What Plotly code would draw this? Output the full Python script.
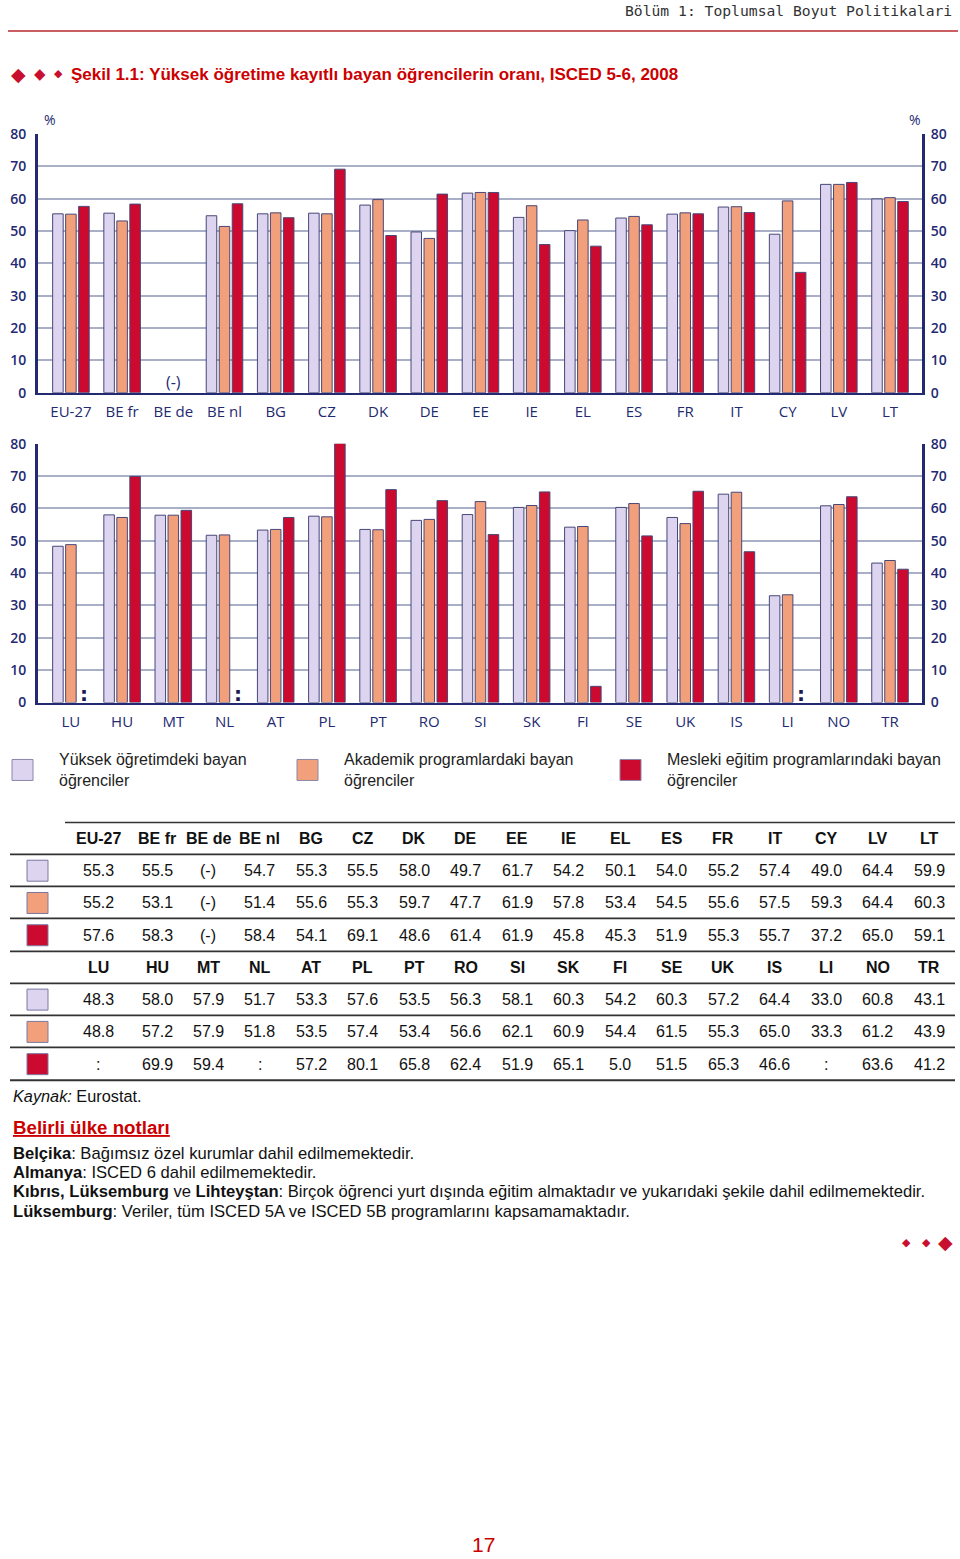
import plotly.graph_objects as go

W, H = 960, 1559
# vertical placement calibrated against the rendered page
def X(px): return px / W
def Y(py): return 1 - (py - 9) / (0.9885 * H)

# ---------------- data ----------------
series_names = ["Yüksek öğretimdeki bayan<br>öğrenciler",
                "Akademik programlardaki bayan<br>öğrenciler",
                "Mesleki eğitim programlarındaki bayan<br>öğrenciler"]
colors = ["#ddd4f0", "#f2a07c", "#cc0a30"]

top_countries = ["EU-27", "BE fr", "BE de", "BE nl", "BG", "CZ", "DK", "DE", "EE",
                 "IE", "EL", "ES", "FR", "IT", "CY", "LV", "LT"]
top_total = [55.3, 55.5, None, 54.7, 55.3, 55.5, 58.0, 49.7, 61.7, 54.2, 50.1, 54.0, 55.2, 57.4, 49.0, 64.4, 59.9]
top_acad = [55.2, 53.1, None, 51.4, 55.6, 55.3, 59.7, 47.7, 61.9, 57.8, 53.4, 54.5, 55.6, 57.5, 59.3, 64.4, 60.3]
top_voc = [57.6, 58.3, None, 58.4, 54.1, 69.1, 48.6, 61.4, 61.9, 45.8, 45.3, 51.9, 55.3, 55.7, 37.2, 65.0, 59.1]
top_missing = "(-)"

bot_countries = ["LU", "HU", "MT", "NL", "AT", "PL", "PT", "RO", "SI", "SK", "FI", "SE",
                 "UK", "IS", "LI", "NO", "TR"]
bot_total = [48.3, 58.0, 57.9, 51.7, 53.3, 57.6, 53.5, 56.3, 58.1, 60.3, 54.2, 60.3, 57.2, 64.4, 33.0, 60.8, 43.1]
bot_acad = [48.8, 57.2, 57.9, 51.8, 53.5, 57.4, 53.4, 56.6, 62.1, 60.9, 54.4, 61.5, 55.3, 65.0, 33.3, 61.2, 43.9]
bot_voc = [None, 69.9, 59.4, None, 57.2, 80.1, 65.8, 62.4, 51.9, 65.1, 5.0, 51.5, 65.3, 46.6, None, 63.6, 41.2]
bot_missing = ":"

y_ticks = [0, 10, 20, 30, 40, 50, 60, 70, 80]

header_text = "Bölüm 1: Toplumsal Boyut Politikalari"
title_text = "Şekil 1.1: Yüksek öğretime kayıtlı bayan öğrencilerin oranı, ISCED 5-6, 2008"
source_text = "<i>Kaynak:</i> Eurostat."
notes_title = "Belirli ülke notları"
notes = ["<b>Belçika</b>: Bağımsız özel kurumlar dahil edilmemektedir.",
         "<b>Almanya</b>: ISCED 6 dahil edilmemektedir.",
         "<b>Kıbrıs, Lüksemburg</b> ve <b>Lihteyştan</b>: Birçok öğrenci yurt dışında eğitim almaktadır ve yukarıdaki şekile dahil edilmemektedir.",
         "<b>Lüksemburg</b>: Veriler, tüm ISCED 5A ve ISCED 5B programlarını kapsamamaktadır."]
page_no = "17"

# ---------------- styles ----------------
NAVY = "#232a72"
GRID = "#a9afc6"
RED = "#c8102e"
AX_FONT = "Open Sans"
TXT_FONT = "Liberation Sans"

fig = go.Figure()

panels = [
    (top_countries, [top_total, top_acad, top_voc], "x", "y", "y3"),
    (bot_countries, [bot_total, bot_acad, bot_voc], "x2", "y2", "y4"),
]
for cats, sers, xa, ya, yr in panels:
    for vals, col in zip(sers, colors):
        fig.add_trace(go.Bar(x=cats, y=vals, xaxis=xa, yaxis=ya, showlegend=False,
                             marker=dict(color=col, line=dict(color="#474778", width=1))))
    # invisible trace for the right-hand axis
    fig.add_trace(go.Scatter(x=[cats[0]], y=[None], xaxis=xa, yaxis=yr, showlegend=False,
                             mode="markers", hoverinfo="skip"))

xrange = [-0.643, 16.625]
xdom = [X(38), X(922)]

def xaxis_cfg(anchor):
    return dict(domain=xdom, anchor=anchor, range=xrange, type="category",
                showline=True, linecolor=NAVY, linewidth=2, ticks="",
                tickfont=dict(family=AX_FONT, size=15, color=NAVY),
                ticklabelstandoff=4, showgrid=False, fixedrange=True)

def yaxis_cfg(dom, anchor):
    return dict(domain=dom, anchor=anchor, range=[0, 80], tickvals=y_ticks,
                showgrid=True, gridcolor=GRID, gridwidth=1.5, zeroline=False,
                showline=True, linecolor=NAVY, linewidth=3, ticks="",
                ticklabelstandoff=6,
                tickfont=dict(family=AX_FONT, size=14, color=NAVY, weight=600))

def yaxis_right(dom, anchor, over):
    d = yaxis_cfg(dom, anchor)
    d.update(overlaying=over, side="right", showgrid=False, ticklabelstandoff=3)
    return d

top_dom = [Y(392), Y(133)]
bot_dom = [Y(702), Y(443)]

fig.update_layout(
    width=W, height=H, autosize=False,
    margin=dict(l=0, r=0, t=0, b=0),
    paper_bgcolor="white", plot_bgcolor="white",
    font=dict(family=TXT_FONT, size=16, color="#111"),
    barmode="group", bargap=0.238, bargroupgap=0.19,
    xaxis=xaxis_cfg("y"),
    xaxis2=xaxis_cfg("y2"),
    yaxis=yaxis_cfg(top_dom, "x"),
    yaxis2=yaxis_cfg(bot_dom, "x2"),
    yaxis3=yaxis_right(top_dom, "x", "y"),
    yaxis4=yaxis_right(bot_dom, "x2", "y2"),
)

ann = []
shapes = []

# header
ann.append(dict(text=header_text, x=X(954), y=Y(9), xref="paper", yref="paper",
                xanchor="right", yanchor="middle", showarrow=False,
                font=dict(family="DejaVu Sans Mono", size=14.7, color="#333")))
shapes.append(dict(type="line", xref="paper", yref="paper", x0=X(8), x1=X(958),
                   y0=Y(30), y1=Y(30), line=dict(color="#b8282e", width=1.3)))

# title diamonds + title
for xc, sz in [(18, 19), (40, 15), (58, 11)]:
    ann.append(dict(text="◆", x=X(xc), y=Y(73), xref="paper", yref="paper",
                    xanchor="center", yanchor="middle", showarrow=False,
                    font=dict(family="DejaVu Sans", size=sz, color=RED)))
ann.append(dict(text="<b>" + title_text + "</b>", x=X(69), y=Y(74), xref="paper", yref="paper",
                xanchor="left", yanchor="middle", showarrow=False,
                font=dict(family="Liberation Sans Narrow, Liberation Sans", size=17, color="#cc0000")))

# percent labels
for xp in (50, 915):
    ann.append(dict(text="%", x=X(xp), y=Y(119), xref="paper", yref="paper",
                    xanchor="center", yanchor="middle", showarrow=False,
                    font=dict(family=AX_FONT, size=14, color=NAVY)))

# missing markers in charts
for i, c in enumerate(top_countries):
    if top_total[i] is None and top_acad[i] is None and top_voc[i] is None:
        ann.append(dict(text=top_missing, x=c, y=3.4, xref="x", yref="y", showarrow=False,
                        yanchor="middle", font=dict(family=AX_FONT, size=16, color=NAVY)))
for i, c in enumerate(bot_countries):
    if bot_voc[i] is None:
        ann.append(dict(text="<b>" + bot_missing + "</b>", x=c, y=2.6, xref="x2", yref="y2",
                        xshift=13, showarrow=False, yanchor="middle",
                        font=dict(family="DejaVu Sans", size=20, color="#1a1a50")))

# legend
leg_sw = [12, 297, 620]
leg_tx = [57, 342, 665]
for sx, tx, name, col in zip(leg_sw, leg_tx, series_names, colors):
    shapes.append(dict(type="rect", xref="paper", yref="paper", x0=X(sx), x1=X(sx + 21),
                       y0=Y(780), y1=Y(759), fillcolor=col, line=dict(color="#8a88aa", width=1)))
    ann.append(dict(text=name, x=X(tx), y=Y(770), xref="paper", yref="paper",
                    xanchor="left", yanchor="middle", align="left", showarrow=False,
                    font=dict(family=TXT_FONT, size=16, color="#222")))

# table
col_x = [98] + [157 + (i - 1) * 51.47 for i in range(1, 17)]
def fmt(v, miss):
    return miss if v is None else f"{v:.1f}"

blocks = [
    (838, top_countries, [top_total, top_acad, top_voc], top_missing),
    (967, bot_countries, [bot_total, bot_acad, bot_voc], bot_missing),
]
for hy, cats, sers, miss in blocks:
    for cx, c in zip(col_x, cats):
        ann.append(dict(text="<b>" + c + "</b>", x=X(cx), y=Y(hy), xref="paper", yref="paper",
                        xanchor="center", yanchor="middle", showarrow=False,
                        font=dict(family=TXT_FONT, size=16, color="#111")))
    for r, (vals, col) in enumerate(zip(sers, colors)):
        ry = hy + 32.3 * (r + 1)
        shapes.append(dict(type="rect", xref="paper", yref="paper", x0=X(27), x1=X(48),
                           y0=Y(ry + 10.5), y1=Y(ry - 10.5), fillcolor=col,
                           line=dict(color="#7a78a0", width=1)))
        for cx, v in zip(col_x, vals):
            ann.append(dict(text=fmt(v, miss), x=X(cx), y=Y(ry), xref="paper", yref="paper",
                            xanchor="center", yanchor="middle", showarrow=False,
                            font=dict(family=TXT_FONT, size=16, color="#111")))

shapes.append(dict(type="line", xref="paper", yref="paper", x0=X(65), x1=X(955),
                   y0=Y(822), y1=Y(822), line=dict(color="#333", width=1.5)))
for ly in [854, 886, 918, 951, 983, 1015, 1047, 1080]:
    shapes.append(dict(type="line", xref="paper", yref="paper", x0=X(10), x1=X(955),
                       y0=Y(ly), y1=Y(ly), line=dict(color="#333", width=1.8)))

# source and notes
ann.append(dict(text=source_text, x=X(11), y=Y(1096), xref="paper", yref="paper",
                xanchor="left", yanchor="middle", showarrow=False,
                font=dict(family=TXT_FONT, size=16.3, color="#111")))
ann.append(dict(text="<b><u>" + notes_title + "</u></b>", x=X(11), y=Y(1127), xref="paper", yref="paper",
                xanchor="left", yanchor="middle", showarrow=False,
                font=dict(family=TXT_FONT, size=18.7, color="#cc0000")))
for i, t in enumerate(notes):
    ann.append(dict(text=t, x=X(11), y=Y(1153 + 19.4 * i), xref="paper", yref="paper",
                    xanchor="left", yanchor="middle", showarrow=False,
                    font=dict(family=TXT_FONT, size=16.6, color="#111")))

# bottom-right diamonds
for xc, sz in [(906, 11), (926, 11), (945, 19)]:
    ann.append(dict(text="◆", x=X(xc), y=Y(1242), xref="paper", yref="paper",
                    xanchor="center", yanchor="middle", showarrow=False,
                    font=dict(family="DejaVu Sans", size=sz, color=RED)))

# page number
ann.append(dict(text=page_no, x=X(483), y=Y(1545), xref="paper", yref="paper",
                xanchor="center", yanchor="middle", showarrow=False,
                font=dict(family=TXT_FONT, size=21, color="#cc0000")))

fig.update_layout(annotations=ann, shapes=shapes)
fig.write_html("out.html", config={"displayModeBar": False})
